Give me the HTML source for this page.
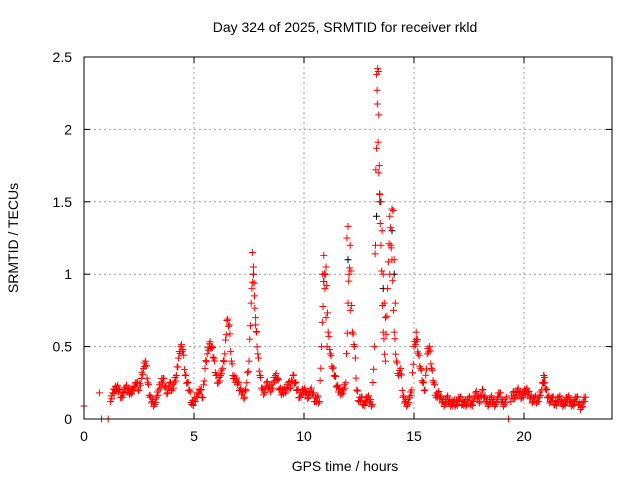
<!DOCTYPE html>
<html><head><meta charset="utf-8"><style>
body{margin:0;background:#fff;font-family:"Liberation Sans",sans-serif}
svg text{font-family:"Liberation Sans",sans-serif;font-size:14px;fill:#000}
</style></head><body>
<svg id="chart" width="640" height="480">
<text x="345" y="32" text-anchor="middle">Day 324 of 2025, SRMTID for receiver rkld</text>
<text x="345" y="471" text-anchor="middle">GPS time / hours</text>
<text transform="translate(18,238) rotate(-90)" text-anchor="middle">SRMTID / TECUs</text>
<g id="grid"></g><g id="marks"></g>
<rect x="84" y="57" width="528" height="362" fill="none" stroke="#000" stroke-width="1"/>
<g id="ticks"></g>
</svg>
<script>
const xTicks=[0,5,10,15,20];
const yTicks=[0,0.5,1,1.5,2,2.5];
const yTickLabels=["0","0.5","1","1.5","2","2.5"];
const baseStart=0, baseStep=0.1;
const baseVals=[
0.09,null,null,null,null,null,null,0.18,0.0,null,
null,0.0,0.12,0.18,0.2,0.22,0.2,0.15,0.18,0.22,
0.2,0.18,0.2,0.22,0.25,0.2,0.28,0.35,0.4,0.25,
0.15,0.12,0.1,0.15,0.2,0.25,0.28,0.22,0.18,0.25,
0.2,0.25,0.3,0.42,0.5,0.48,0.3,0.25,0.2,0.1,
0.12,0.15,0.18,0.2,0.15,0.35,0.45,0.52,0.5,0.42,
0.3,0.25,0.3,0.35,0.45,0.68,0.65,0.4,0.28,0.27,
0.25,0.2,0.18,0.15,0.25,0.4,0.8,1.05,0.65,0.45,
0.3,0.2,0.18,0.25,0.22,0.2,0.25,0.3,0.28,0.2,
0.18,0.2,0.2,0.25,0.22,0.3,0.25,0.2,0.15,0.18,
0.2,0.18,0.15,0.2,0.18,0.12,0.15,0.12,0.5,0.95,
1.05,0.6,0.45,0.35,0.3,0.22,0.2,0.18,0.2,0.25,
0.8,1.2,0.6,0.5,0.2,0.12,0.15,0.1,0.12,0.15,
0.12,0.1,0.5,2.38,1.7,1.2,0.6,0.4,0.9,1.4,
1.1,0.6,0.4,0.3,0.35,0.15,0.12,0.1,0.15,0.2,
0.5,0.55,0.45,0.35,0.25,0.2,0.45,0.5,0.35,0.25,
0.15,0.18,0.15,0.12,0.1,0.15,0.12,0.1,0.12,0.1,
0.12,0.15,0.1,0.12,0.1,0.15,0.1,0.12,0.18,0.15,
0.12,0.2,0.15,0.12,0.1,0.15,0.12,0.1,0.15,0.18,
0.12,0.1,0.15,0.0,0.12,0.18,0.15,0.2,0.18,0.15,
0.18,0.2,0.18,0.15,0.12,0.15,0.12,0.15,0.2,0.3,
0.2,0.15,0.12,0.15,0.1,0.12,0.15,0.12,0.1,0.12,
0.15,0.12,0.1,0.12,0.15,0.1,0.08,0.12,0.15];
const peakT=[7.65,7.7,7.75,7.8,7.85,10.85,10.9,10.95,11.0,11.05,11.95,12.0,12.05,12.1,13.25,13.3,13.32,13.35,13.38,13.4,13.42,13.45,13.5,13.55,13.6,13.65,13.7,13.9,13.95,14.0,14.05,14.1,14.15,15.1,15.15,20.9,20.95];
const peakV=[1.15,1.0,0.85,0.7,0.6,1.0,1.13,0.9,0.7,0.5,1.25,1.33,1.0,0.75,1.2,1.87,2.27,2.42,2.4,2.1,1.75,1.55,1.5,1.3,1.0,0.8,0.7,1.0,1.2,1.45,1.44,1.1,0.8,0.6,0.55,0.3,0.25];
const blackT=[7.7,10.9,12.0,13.3,13.45,13.6,14.0,14.1,20.9];
const blackV=[1.0,0.95,1.1,1.4,1.5,0.9,1.3,1.0,0.25];
const X=t=>84+t*22, Y=v=>419-v*144.8;
const NS="http://www.w3.org/2000/svg";
const grid=document.getElementById('grid'),ticks=document.getElementById('ticks'),marks=document.getElementById('marks');
function mk(tag,attrs,parent){const e=document.createElementNS(NS,tag);for(const k in attrs)e.setAttribute(k,attrs[k]);parent.appendChild(e);return e;}
xTicks.forEach(t=>{const x=X(t);
 if(t>0){const g=mk('line',{x1:x,x2:x,y1:57,y2:419,stroke:'#a0a0a0','stroke-dasharray':'2,3'},grid);
 
 }
 mk('line',{x1:x,x2:x,y1:419,y2:413,stroke:'#000'},ticks);mk('line',{x1:x,x2:x,y1:57,y2:63,stroke:'#000'},ticks);
 const l=mk('text',{x:x,y:441,'text-anchor':'middle'},ticks);l.textContent=t;
 
 });
yTicks.forEach((v,i)=>{const y=Y(v);
 if(v>0&&v<2.5){const g=mk('line',{x1:84,x2:612,y1:y,y2:y,stroke:'#a0a0a0','stroke-dasharray':'2,3'},grid);
 
 }
 mk('line',{x1:84,x2:90,y1:y,y2:y,stroke:'#000'},ticks);mk('line',{x1:612,x2:606,y1:y,y2:y,stroke:'#000'},ticks);
 const l=mk('text',{x:72,y:y+5,'text-anchor':'end'},ticks);l.textContent=yTickLabels[i];
 
 });
function plus(t,v,c,name){const x=X(t),y=Y(v);
 const p=mk('path',{d:`M${x-3.5},${y}h7M${x},${y-3.5}v7`,stroke:c,'stroke-width':1,fill:'none'},marks);
 
 }
blackT.forEach((t,i)=>plus(t,blackV[i],'#000','black-point'));
baseVals.forEach((v,i)=>{if(v===null)return;const t=baseStart+i*baseStep;
 plus(t,v,'#f00','srmtid-point');
 const w=baseVals[i+1];
 if(w!=null&&v>0&&w>0){
  plus(t+0.033,v+(w-v)*0.33+0.02,'#f00','srmtid-point');
  plus(t+0.066,v+(w-v)*0.66-0.02,'#f00','srmtid-point');}});
peakT.forEach((t,i)=>plus(t,peakV[i],'#f00','srmtid-peak-point'));
</script>
</body></html>
